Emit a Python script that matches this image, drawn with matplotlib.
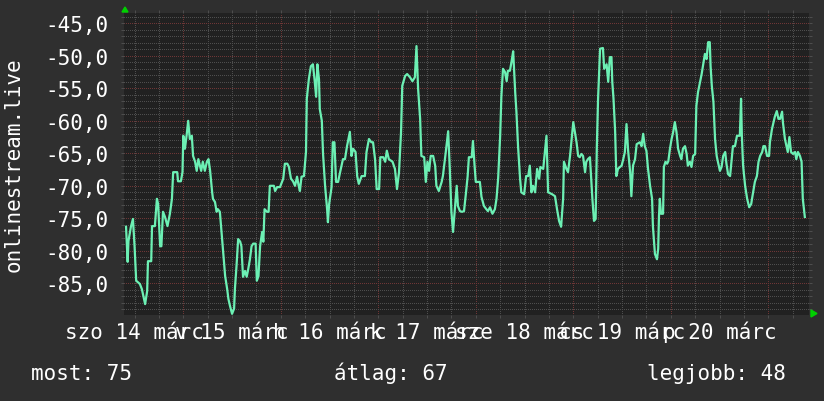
import matplotlib
matplotlib.use('Agg')
import matplotlib.pyplot as plt
from matplotlib.ticker import MultipleLocator, FuncFormatter, NullFormatter
from matplotlib.transforms import blended_transform_factory
from matplotlib.patches import Polygon

# hours since 14 March 00:00
hours = [9.9, 10.3, 10.5, 11.1, 11.6, 12.0, 12.4, 13.3, 13.8, 14.6, 15.1, 15.3, 16.1, 16.3, 17.0,
         17.5, 17.8, 18.3, 18.6, 19.0, 19.5, 20.1, 20.7, 21.2, 21.5, 22.5, 22.7, 23.4, 23.8, 24.0,
         24.4, 24.8, 25.2, 25.6, 26.1, 26.4, 26.9, 27.3, 27.7, 28.4, 28.8, 29.3, 29.8, 30.2, 30.6,
         31.1, 31.3, 31.8, 32.2, 32.5, 33.0, 33.4, 33.8, 34.3, 34.8, 35.1, 35.5, 36.0, 36.5, 36.7,
         37.1, 37.5, 38.0, 38.3, 38.7, 39.2, 39.6, 39.9, 40.4, 40.8, 41.2, 41.8, 42.1, 42.5, 42.9,
         43.4, 43.7, 44.0, 44.6, 45.0, 45.3, 46.3, 46.6, 47.1, 47.8, 48.6, 49.0, 49.6, 50.0, 50.5,
         51.0, 51.5, 52.0, 52.4, 52.7, 53.1, 53.7, 54.2, 54.4, 54.9, 55.4, 55.9, 56.3, 56.7, 57.0,
         57.4, 57.6, 58.1, 58.4, 58.9, 59.4, 59.6, 59.9, 60.5, 60.8, 61.2, 61.6, 62.1, 62.6, 63.3,
         63.8, 64.3, 65.0, 65.4, 65.8, 66.4, 66.8, 67.2, 67.9, 68.7, 69.1, 69.7, 70.3, 70.7, 71.2,
         71.6, 72.2, 72.5, 73.2, 73.7, 74.1, 74.6, 75.5, 76.1, 76.6, 77.1, 77.6, 77.9, 78.6, 79.1,
         79.8, 80.4, 81.0, 81.4, 81.8, 82.3, 82.6, 83.3, 83.7, 84.1, 84.5, 84.9, 85.5, 86.0, 86.3,
         86.9, 87.6, 87.9, 88.5, 89.2, 89.6, 90.0, 90.4, 90.9, 91.3, 91.6, 92.1, 92.6, 93.1, 93.6,
         94.0, 94.3, 95.0, 95.3, 95.7, 96.0, 97.0, 97.4, 98.0, 98.6, 99.0, 99.5, 100.1, 100.7, 101.1,
         101.5, 102.0, 102.3, 102.7, 103.2, 103.6, 103.9, 104.4, 104.8, 105.2, 105.7, 106.0, 106.4, 106.9, 107.2,
         107.9, 108.4, 108.9, 109.3, 109.7, 110.1, 110.6, 111.1, 111.6, 111.9, 112.6, 113.0, 113.4, 113.8, 114.8,
         115.5, 116.0, 116.5, 117.0, 117.5, 117.7, 118.3, 118.7, 119.2, 119.6, 120.0, 120.4, 120.8, 121.2, 121.6,
         122.0, 122.4, 122.9, 123.2, 123.6, 124.1, 124.4, 124.7, 125.1, 125.5, 125.8, 126.1, 126.6, 127.3, 127.6,
         128.2, 128.6, 129.0, 129.4, 129.6, 129.9, 130.3, 130.6, 131.0, 131.5, 131.9, 132.3, 132.7, 133.1, 133.5,
         134.0, 134.3, 134.7, 135.2, 135.6, 136.4, 136.8, 137.2, 137.6, 138.0, 138.4, 138.9, 139.4, 139.6, 140.1,
         140.6, 140.9, 141.1, 141.3, 141.6, 142.1, 142.3, 142.7, 143.1, 143.4, 143.8, 144.2, 144.6, 145.0, 145.4,
         145.8, 146.3, 146.6, 147.0, 147.5, 147.9, 148.2, 148.7, 149.1, 149.5, 150.0, 150.3, 150.7, 151.2, 151.6,
         151.9, 152.4, 152.8, 153.2, 153.6, 153.8, 154.1, 154.5, 154.9, 155.3, 155.6, 156.1, 156.5, 156.9, 157.4,
         157.7, 158.1, 158.6, 159.0, 159.3, 159.8, 160.3, 161.0, 161.3, 161.5, 161.8, 162.3, 162.8, 163.3, 163.8,
         164.0, 164.7, 165.2, 165.6, 166.0, 166.5, 166.8, 167.2, 167.7, 168.2, 168.4, 168.9, 169.3, 169.6, 170.1,
         170.5, 170.9, 171.4, 171.6, 172.1, 172.5, 172.8, 173.2, 173.6, 174.1, 174.6, 174.9, 175.3, 175.8, 176.2,
         176.5, 177.0]
values = [-76.3, -81.7, -78.5, -76.3, -75.1, -79.3, -84.6, -85.1, -85.9, -88.2, -86.2, -81.6, -81.6, -76.2, -76.2,
          -72.0, -72.8, -79.3, -79.3, -74.0, -74.8, -76.2, -74.3, -72.0, -67.9, -67.9, -69.3, -69.3, -67.9, -62.3,
          -64.3, -62.3, -60.0, -62.8, -62.3, -65.4, -66.3, -67.7, -65.9, -67.7, -66.3, -67.7, -66.3, -65.9, -67.7,
          -71.0, -72.0, -72.5, -74.0, -73.6, -74.0, -77.1, -80.2, -83.9, -85.9, -87.4, -88.5, -89.7, -88.9, -85.9,
          -82.3, -78.2, -78.6, -79.3, -84.0, -83.1, -84.0, -83.1, -81.3, -79.3, -78.9, -78.9, -84.6, -83.9, -79.3,
          -77.1, -78.6, -73.6, -74.0, -74.0, -70.0, -70.0, -70.8, -70.2, -70.2, -68.9, -66.6, -66.6, -67.1, -68.9,
          -69.3, -70.0, -68.6, -70.0, -70.8, -68.6, -68.5, -64.8, -56.6, -53.6, -51.6, -51.3, -53.6, -56.3, -51.3,
          -53.6, -58.2, -60.0, -65.1, -70.0, -73.6, -75.6, -72.8, -70.2, -63.3, -63.3, -69.4, -69.4, -67.9, -65.9,
          -65.9, -63.9, -61.7, -65.4, -64.3, -64.8, -68.5, -69.7, -68.5, -68.5, -64.8, -62.8, -63.3, -63.3, -65.9,
          -70.5, -70.5, -65.6, -65.6, -66.3, -64.6, -65.9, -66.3, -67.4, -70.5, -67.9, -61.7, -54.6, -53.1, -52.8,
          -53.3, -53.9, -53.3, -48.5, -55.1, -59.7, -65.4, -65.6, -69.4, -66.3, -67.7, -65.4, -65.4, -66.9, -70.0,
          -70.8, -69.4, -68.5, -65.4, -61.6, -67.4, -74.0, -77.1, -73.1, -70.0, -73.1, -73.9, -74.0, -73.9, -71.0,
          -68.5, -65.6, -65.6, -63.1, -66.9, -69.4, -69.4, -71.7, -73.1, -73.6, -73.9, -73.3, -74.3, -73.6, -72.0,
          -68.9, -62.3, -56.2, -52.0, -52.5, -53.9, -52.3, -52.3, -50.9, -49.3, -55.6, -58.6, -63.9, -68.9, -71.0,
          -71.3, -68.5, -68.5, -66.9, -71.0, -70.0, -71.0, -67.4, -68.9, -67.1, -67.4, -64.8, -62.3, -71.0, -71.3,
          -71.6, -73.6, -75.4, -76.3, -72.0, -66.3, -67.4, -67.9, -65.4, -62.8, -60.2, -61.7, -63.3, -65.4, -65.6,
          -65.1, -65.4, -67.9, -66.3, -65.9, -65.6, -68.9, -72.0, -75.4, -75.1, -63.9, -56.6, -48.9, -48.8, -52.0,
          -51.3, -54.0, -50.2, -50.2, -54.0, -56.6, -61.6, -68.5, -67.4, -67.1, -66.9, -65.9, -64.8, -60.5, -64.6,
          -67.9, -71.6, -66.9, -65.9, -63.6, -63.3, -63.9, -62.0, -63.9, -64.6, -67.4, -70.0, -72.0, -76.2, -80.5,
          -81.3, -79.7, -74.6, -72.0, -74.3, -74.3, -67.1, -66.3, -66.6, -66.2, -64.3, -62.8, -61.7, -60.2, -61.7,
          -64.3, -65.4, -65.9, -64.3, -63.9, -65.1, -66.9, -66.3, -67.1, -65.4, -65.1, -57.7, -55.6, -54.0, -52.8,
          -51.6, -49.7, -50.5, -47.9, -47.9, -51.6, -54.6, -57.1, -62.8, -65.4, -66.3, -67.7, -67.1, -65.4, -64.8,
          -66.6, -68.2, -68.5, -65.9, -63.9, -63.9, -62.3, -62.3, -56.6, -62.3, -66.9, -70.0, -72.0, -73.3, -72.8,
          -72.0, -69.4, -68.5, -66.3, -65.4, -64.8, -63.9, -63.9, -65.4, -65.4, -63.3, -61.3, -60.2, -59.4, -58.5,
          -59.7, -59.7, -58.6, -60.2, -62.8, -63.9, -64.8, -62.5, -64.8, -65.1, -64.8, -65.9, -64.8, -65.4, -66.3,
          -72.0, -74.8]

day_labels = ['szo 14 márc', 'v 15 márc', 'h 16 márc', 'k 17 márc',
              'sze 18 márc', 'cs 19 márc', 'p 20 márc']
label_hours = [12, 36, 60, 84, 108, 132, 156]  # labels sit at noon
most, atlag, legjobb = 75, 67, 48

mono = 'DejaVu Sans Mono'
fs = 15
bg = '#2f2f2f'
canvas = '#212121'
green = '#6cf0b4'

fig = plt.figure(figsize=(8.24, 4.02), dpi=100, facecolor=bg)
ax = fig.add_axes([124 / 824, 1 - 316 / 402, 685.3 / 824, 302 / 402])
ax.set_facecolor(canvas)

ax.set_xlim(9.4, 178.1)
ax.set_ylim(-89.88, -43.41)

ax.xaxis.set_major_locator(MultipleLocator(24))
ax.xaxis.set_minor_locator(MultipleLocator(6))
ax.xaxis.set_major_formatter(NullFormatter())
ax.yaxis.set_major_locator(MultipleLocator(5))
ax.yaxis.set_minor_locator(MultipleLocator(1))
ax.yaxis.set_major_formatter(FuncFormatter(lambda v, p: f'{v:.1f}'.replace('.', ',')))

ax.grid(which='minor', color='#4e4e4e', linestyle=(0, (1, 2)), linewidth=0.72, antialiased=False)
ax.grid(which='major', color='#6e3636', linestyle=(0, (1, 2)), linewidth=0.72, antialiased=False)
ax.set_axisbelow(True)

ax.tick_params(which='both', length=2, width=0.7, color='#4e4e4e', direction='out',
               top=True, right=True)
ax.tick_params(axis='y', which='major', pad=9.5, labelsize=fs, labelcolor='white')
for lab in ax.get_yticklabels():
    lab.set_fontfamily(mono)

for s in ax.spines.values():
    s.set_visible(False)

ax.plot(hours, values, color=green, linewidth=1.6, zorder=3)

tr = blended_transform_factory(ax.transData, ax.transAxes)
for h, lab in zip(label_hours, day_labels):
    ax.text(h, -23 / 302, lab, transform=tr, ha='center', va='baseline',
            fontsize=fs, family=mono, color='white')

fig.text(14 / 824, 1 - 165 / 402, 'onlinestream.live', rotation=90, ha='center', va='center',
         fontsize=fs, family=mono, color='white')

base = 1 - 380 / 402
fig.text(31 / 824, base, f'most: {most}', fontsize=fs, family=mono, color='white', va='baseline')
fig.text(334 / 824, base, f'átlag: {atlag}', fontsize=fs, family=mono, color='white', va='baseline')
fig.text(647 / 824, base, f'legjobb: {legjobb}', fontsize=fs, family=mono, color='white', va='baseline')

# green axis arrows
W, H = 824, 402
up = Polygon([(122 / W, 1 - 13 / H), (128 / W, 1 - 13 / H), (125 / W, 1 - 8 / H)],
             closed=True, transform=fig.transFigure, color='#00d000')
right = Polygon([(811 / W, 1 - 311 / H), (811 / W, 1 - 318 / H), (817 / W, 1 - 314.5 / H)],
                closed=True, transform=fig.transFigure, color='#00d000')
fig.patches.extend([up, right])

fig.savefig('out.png', dpi=100, facecolor=bg)
